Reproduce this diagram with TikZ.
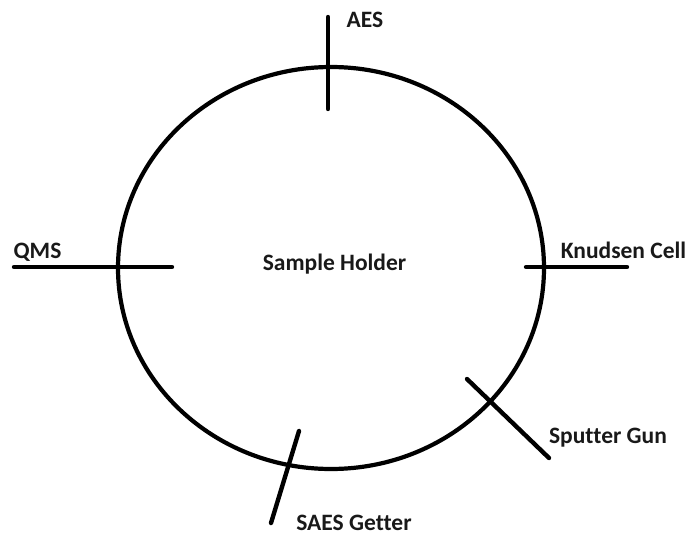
\documentclass[tikz,border=0pt]{standalone}
\usepackage{fontspec}
\setmainfont[Ligatures=NoCommon]{Carlito}
\usetikzlibrary{shapes.geometric}
\begin{document}
\begin{tikzpicture}[x=1pt,y=-1pt,
  lbl/.style={font=\fontsize{23.5}{27}\selectfont\bfseries, text=black!90, inner sep=0pt},
  tick/.style={line width=4.4pt, line cap=round}]
\useasboundingbox (0,0) rectangle (690,535);
\node[draw, line width=4.2pt, ellipse, minimum width=426pt, minimum height=402pt, inner sep=0pt] (holder) at (331,268) {};
\node[lbl] (sh) at (334.5,264) {Sample Holder};
% AES
\coordinate (aes1) at (328,17);
\coordinate (aes2) at (328,109);
\draw[tick] (aes1) -- (aes2);
\node[lbl] (aes) at (365,20) {AES};
% QMS
\coordinate (qms1) at (14,267);
\coordinate (qms2) at (172,267);
\draw[tick] (qms1) -- (qms2);
\node[lbl] (qms) at (37.5,252) {QMS};
% Knudsen
\coordinate (kc1) at (526,267);
\coordinate (kc2) at (627,267);
\draw[tick] (kc1) -- (kc2);
\node[lbl] (kc) at (623.5,250) {Knudsen Cell};
% Sputter gun
\coordinate (sg1) at (467,379);
\coordinate (sg2) at (549,458);
\draw[tick] (sg1) -- (sg2);
\node[lbl] (sg) at (608,438) {Sputter Gun};
% SAES getter
\coordinate (sa1) at (299,431);
\coordinate (sa2) at (271,523);
\draw[tick] (sa1) -- (sa2);
\node[lbl] (sa) at (354,523) {SAES Getter};
\end{tikzpicture}
\end{document}
